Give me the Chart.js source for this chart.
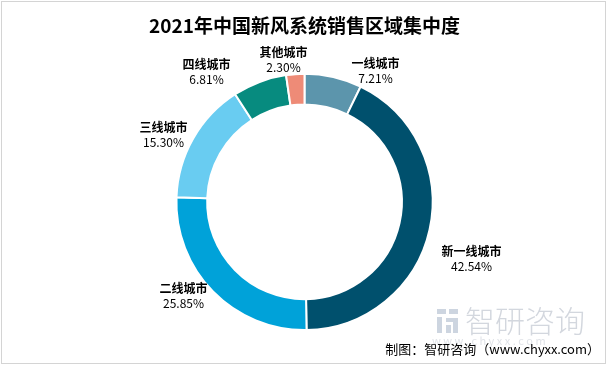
<!DOCTYPE html>
<html>
<head>
<meta charset="utf-8">
<script src="https://cdn.jsdelivr.net/npm/chart.js@4.4.1/dist/chart.umd.min.js"></script>
<style>
  html, body { margin: 0; padding: 0; background: #fff; }
  #wrap { width: 609px; height: 367px; position: relative; }
</style>
</head>
<body>
<div id="wrap"><canvas id="chart" width="609" height="367"></canvas></div>
<script>
const categories = ["一线城市", "新一线城市", "二线城市", "三线城市", "四线城市", "其他城市"];
const shares = [7.21, 42.54, 25.85, 15.30, 6.81, 2.30];
const sliceColors = ["#5C95AC", "#00506D", "#00A2D9", "#69CCF1", "#078B7F", "#EE8B77"];

const titleText = "2021年中国新风系统销售区域集中度";
const sourceText = "制图：智研咨询（www.chyxx.com）";

// label block centres, relative to the ring centre
const labelOffsets = [[71, -131], [167, 57], [-121, 94], [-141, -67], [-98, -130], [-21, -142]];

const cjk = '"Noto Sans CJK SC", "Microsoft YaHei", sans-serif';

const decorPlugin = {
  id: "decor",
  beforeDraw(chart) {
    const ctx = chart.ctx;
    ctx.save();
    ctx.fillStyle = "#fff";
    ctx.fillRect(0, 0, chart.width, chart.height);
    ctx.restore();
  },
  afterDraw(chart) {
    const ctx = chart.ctx;
    const arc = chart.getDatasetMeta(0).data[0];
    const cx = arc.x, cy = arc.y;

    ctx.save();
    // slice labels
    ctx.textAlign = "center";
    ctx.textBaseline = "middle";
    ctx.fillStyle = "#000";
    categories.forEach((name, i) => {
      const [dx, dy] = labelOffsets[i];
      ctx.font = "bold 12px " + cjk;
      ctx.fillText(name, cx + dx, cy + dy - 7);
      ctx.font = "12px " + cjk;
      ctx.fillText(shares[i].toFixed(2) + "%", cx + dx, cy + dy + 8);
    });

    // watermark
    ctx.fillStyle = "#cdd5e0";
    ctx.fillRect(437, 309, 9, 5);
    ctx.fillRect(449, 309, 9, 5);
    ctx.fillRect(437, 317, 5, 16);
    ctx.fillRect(446, 318, 12, 4);
    ctx.fillRect(446, 325, 5, 8);
    ctx.fillRect(453, 322, 5, 11);
    ctx.font = "300 30px " + cjk;
    ctx.textAlign = "left";
    ctx.textBaseline = "alphabetic";
    ctx.fillStyle = "#d3d7de";
    ctx.fillText("智研咨询", 465, 332);
    ctx.font = "11px " + cjk;
    ctx.fillStyle = "#e0e3e8";
    ctx.fillText("w w w . c h y x x . c o m", 432, 345);

    // source note
    ctx.font = "13px " + cjk;
    ctx.fillStyle = "#000";
    ctx.textAlign = "right";
    ctx.fillText(sourceText, 600, 354);

    // frame
    ctx.strokeStyle = "#d4d4d4";
    ctx.lineWidth = 1;
    ctx.strokeRect(1.5, 1.5, 604, 362);
    ctx.restore();
  }
};

new Chart(document.getElementById("chart"), {
  type: "doughnut",
  data: {
    labels: categories,
    datasets: [{
      data: shares,
      backgroundColor: sliceColors,
      borderColor: "#fff",
      borderWidth: 2
    }]
  },
  options: {
    responsive: false,
    animation: false,
    cutout: "76%",
    rotation: 0,
    layout: { padding: { top: 0, bottom: 36, left: 0, right: 0 } },
    plugins: {
      legend: { display: false },
      tooltip: { enabled: false },
      title: {
        display: true,
        text: titleText,
        color: "#000",
        font: { family: cjk, size: 19, weight: "bold" },
        padding: { top: 14, bottom: 36 }
      }
    }
  },
  plugins: [decorPlugin]
});
</script>
</body>
</html>
